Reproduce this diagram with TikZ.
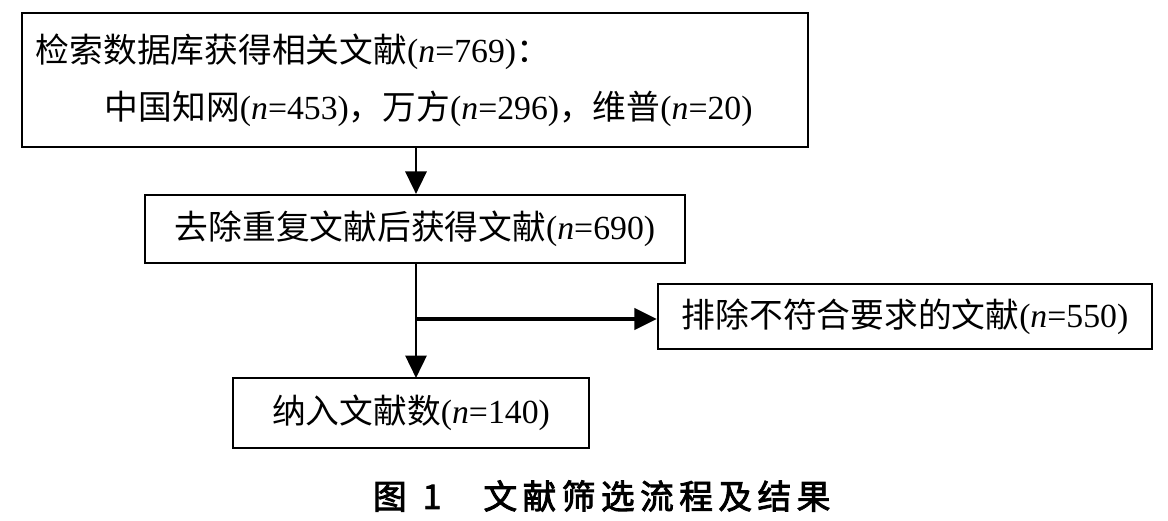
\documentclass[tikz,border=0pt]{standalone}
\usepackage{fontspec}
\setmainfont{Liberation Serif}
\newfontfamily\cjk{Noto Sans CJK SC}
\usetikzlibrary{arrows.meta}
\newcommand{\nval}[1]{{\rmfamily(\textit{n}=#1)}}
\tikzset{
  box/.style={draw, line width=1.5pt, inner xsep=0.35cm, font=\cjk\fontsize{24}{40.4}\selectfont},
  arr/.style={-{Triangle[length=16pt,width=15pt]}, line width=2pt}
}
\begin{document}
\begin{tikzpicture}[x=0.025cm,y=-0.025cm]
      \useasboundingbox (0,0) rectangle (1168,520);
      \node [box, minimum width=19.65cm, minimum height=3.35cm, text width=18.95cm, align=left] (S) at (415,80)
        {检索数据库获得相关文献\nval{769}：\\\hspace*{1.725cm}中国知网\nval{453}，万方\nval{296}，维普\nval{20}};
      \node [box, minimum width=13.5cm, minimum height=1.7cm] (D) at (415,229) {去除重复文献后获得文献\nval{690}};
      \node [box, minimum width=12.35cm, minimum height=1.625cm] (E) at (905,316.5) {排除不符合要求的文献\nval{550}};
      \node [box, minimum width=8.9cm, minimum height=1.75cm] (I) at (411,413) {纳入文献数\nval{140}};
      \coordinate (J) at (416,319);
      \coordinate (K) at (416,378);
    %   arrows
      \draw [arr] (S.south -| J) -- (D.north -| J);
      \draw [line width=2pt] (D.south -| J) -- (J);
      \draw [arr] (J) -- (K);
      \draw [arr, line width=2.6pt] (J) -- (J -| E.west);
      \node [anchor=west, font=\cjk\addfontfeature{FakeBold=2.5}\fontsize{24}{28}\selectfont] (T) at (368,496)
        {图\hspace{0.4cm}1\hspace{1.05cm}\addfontfeature{LetterSpace=16}文献筛选流程及结果};
\end{tikzpicture}
\end{document}
